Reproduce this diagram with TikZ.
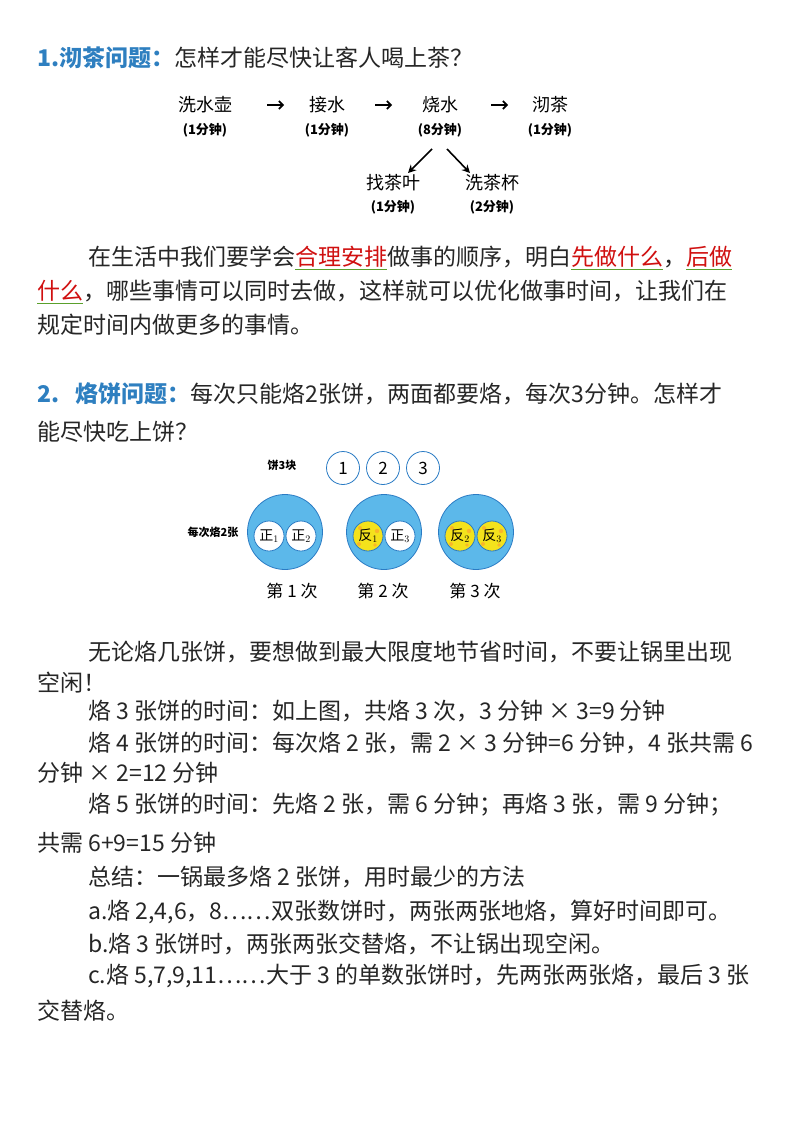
\documentclass[tikz,border=0pt]{standalone}
\usepackage{fontspec}
\setmainfont{Noto Sans CJK SC}
\usetikzlibrary{arrows.meta}
\definecolor{ttl}{HTML}{2E7FC0}
\definecolor{rd}{HTML}{D01010}
\definecolor{gr}{HTML}{5AA02C}
\definecolor{pan}{HTML}{5CB8EA}
\definecolor{pane}{HTML}{2A7BC4}
\definecolor{yel}{HTML}{F4E21C}
\newcommand{\gu}[1]{\textcolor{gr}{$\underline{\hbox{\color{rd}#1}}$}}
\begin{document}
\begin{tikzpicture}[x=1pt,y=-1pt,
  body/.style={anchor=west,inner sep=0,font=\fontsize{23}{23}\selectfont,text=black!85},
  ttlsty/.style={anchor=west,inner sep=0,font=\bfseries\fontsize{23}{23}\selectfont,text=ttl},
  flow/.style={inner sep=1pt,font=\fontsize{18}{18}\selectfont},
  mins/.style={inner sep=1pt,font=\bfseries\fontsize{13}{13}\selectfont},
  arr/.style={-{Stealth[length=8pt,width=8pt]},line width=1.6pt},
  harr/.style={-{Straight Barb[length=4pt,width=8pt]},line width=1.6pt},
  bigc/.style={circle,draw=pane,fill=pan,line width=0.8pt,minimum size=75pt,inner sep=0},
  wc/.style={circle,draw=pane,fill=white,line width=0.8pt,minimum size=30pt,inner sep=0,font=\fontsize{14}{14}\selectfont},
  yc/.style={wc,fill=yel},
  numc/.style={circle,draw=pane,fill=white,line width=0.8pt,minimum size=33pt,inner sep=0,font=\fontsize{17}{17}\selectfont},
  cnt/.style={inner sep=0,font=\fontsize{17}{17}\selectfont}]
\useasboundingbox (0,0) rectangle (800,1132);
\fill[white] (0,0) rectangle (800,1132);
% title 1
\node[ttlsty] (t1) at (37,58) {1.沏茶问题：};
\node[body] (q1) at (t1.east) [anchor=west] {怎样才能尽快让客人喝上茶？};
% flow
\node[flow] (a) at (205,105) {洗水壶};
\node[mins] (am) at (205,130) {(1分钟)};
\node[flow] (b) at (327,105) {接水};
\node[mins] (bm) at (327,130) {(1分钟)};
\node[flow] (c) at (440,105) {烧水};
\node[mins] (cm) at (440,130) {(8分钟)};
\node[flow] (d) at (550,105) {沏茶};
\node[mins] (dm) at (550,130) {(1分钟)};
\node[flow] (e) at (393,183) {找茶叶};
\node[mins] (em) at (393,207) {(1分钟)};
\node[flow] (f) at (492,183) {洗茶杯};
\node[mins] (fm) at (492,207) {(2分钟)};
\coordinate (h1s) at (267,105); \coordinate (h1e) at (284,105);
\coordinate (h2s) at (375,105); \coordinate (h2e) at (392,105);
\coordinate (h3s) at (491,105); \coordinate (h3e) at (508,105);
\coordinate (d1s) at (432,149); \coordinate (d1e) at (408,173);
\coordinate (d2s) at (447,149); \coordinate (d2e) at (470,173);
\draw[harr] (h1s) -- (h1e);
\draw[harr] (h2s) -- (h2e);
\draw[harr] (h3s) -- (h3e);
\draw[arr] (d1s) -- (d1e);
\draw[arr] (d2s) -- (d2e);
% paragraph
\node[body] (p1) at (88,258) {在生活中我们要学会\gu{合理安排}做事的顺序，明白\gu{先做什么}，\gu{后做}};
\node[body] (p2) at (37,292) {\gu{什么}，哪些事情可以同时去做，这样就可以优化做事时间，让我们在};
\node[body] (p3) at (37,325) {规定时间内做更多的事情。};
% title 2
\node[ttlsty] (t2) at (37,394) {2.\ \ \ 烙饼问题：};
\node[body] (q2) at (t2.east) [anchor=west] {每次只能烙2张饼，两面都要烙，每次3分钟。怎样才};
\node[body] (q2b) at (37,432) {能尽快吃上饼？};
% pancake figure
\node[inner sep=0,font=\bfseries\fontsize{11}{11}\selectfont] (l3) at (282,465) {饼3块};
\node[numc] (n1) at (343,468) {1};
\node[numc] (n2) at (383,468) {2};
\node[numc] (n3) at (423,468) {3};
\node[inner sep=0,font=\bfseries\fontsize{11}{11}\selectfont] (l2) at (213,532) {每次烙2张};
\node[bigc] (g1) at (285,532) {};
\node[bigc] (g2) at (384,532) {};
\node[bigc] (g3) at (476,532) {};
\node[wc] (g1a) at (269,536) {正$_1$};
\node[wc] (g1b) at (301,536) {正$_2$};
\node[yc] (g2a) at (368,536) {反$_1$};
\node[wc] (g2b) at (400,536) {正$_3$};
\node[yc] (g3a) at (460,536) {反$_2$};
\node[yc] (g3b) at (492,536) {反$_3$};
\foreach \p in {g2a,g3a,g3b}{
  \fill[orange!80,opacity=.6] ([shift={(-8,-8)}]\p.center) circle (2);
  \fill[orange!80,opacity=.6] ([shift={(9,-5)}]\p.center) circle (2.2);
  \fill[orange!80,opacity=.6] ([shift={(-9,8)}]\p.center) circle (2);
  \fill[orange!80,opacity=.6] ([shift={(7,9)}]\p.center) circle (1.8);
}
\node[cnt] (c1) at (292,591) {第 1 次};
\node[cnt] (c2) at (383,591) {第 2 次};
\node[cnt] (c3) at (475,591) {第 3 次};
% section 2 text
\node[body] (s1) at (88,652) {无论烙几张饼，要想做到最大限度地节省时间，不要让锅里出现};
\node[body] (s2) at (37,683) {空闲！};
\node[body] (s3) at (88,711) {烙 3 张饼的时间：如上图，共烙 3 次，3 分钟 × 3=9 分钟};
\node[body] (s4) at (88,743) {烙 4 张饼的时间：每次烙 2 张，需 2 × 3 分钟=6 分钟，4 张共需 6};
\node[body] (s5) at (37,773) {分钟 × 2=12 分钟};
\node[body] (s6) at (88,805) {烙 5 张饼的时间：先烙 2 张，需 6 分钟；再烙 3 张，需 9 分钟；};
\node[body] (s7) at (37,843) {共需 6+9=15 分钟};
\node[body] (s8) at (88,877) {总结：一锅最多烙 2 张饼，用时最少的方法};
\node[body] (s9) at (88,912) {a.烙 2,4,6，8……双张数饼时，两张两张地烙，算好时间即可。};
\node[body] (s10) at (88,944) {b.烙 3 张饼时，两张两张交替烙，不让锅出现空闲。};
\node[body] (s11) at (88,976) {c.烙 5,7,9,11……大于 3 的单数张饼时，先两张两张烙，最后 3 张};
\node[body] (s12) at (37,1011) {交替烙。};
\end{tikzpicture}
\end{document}
